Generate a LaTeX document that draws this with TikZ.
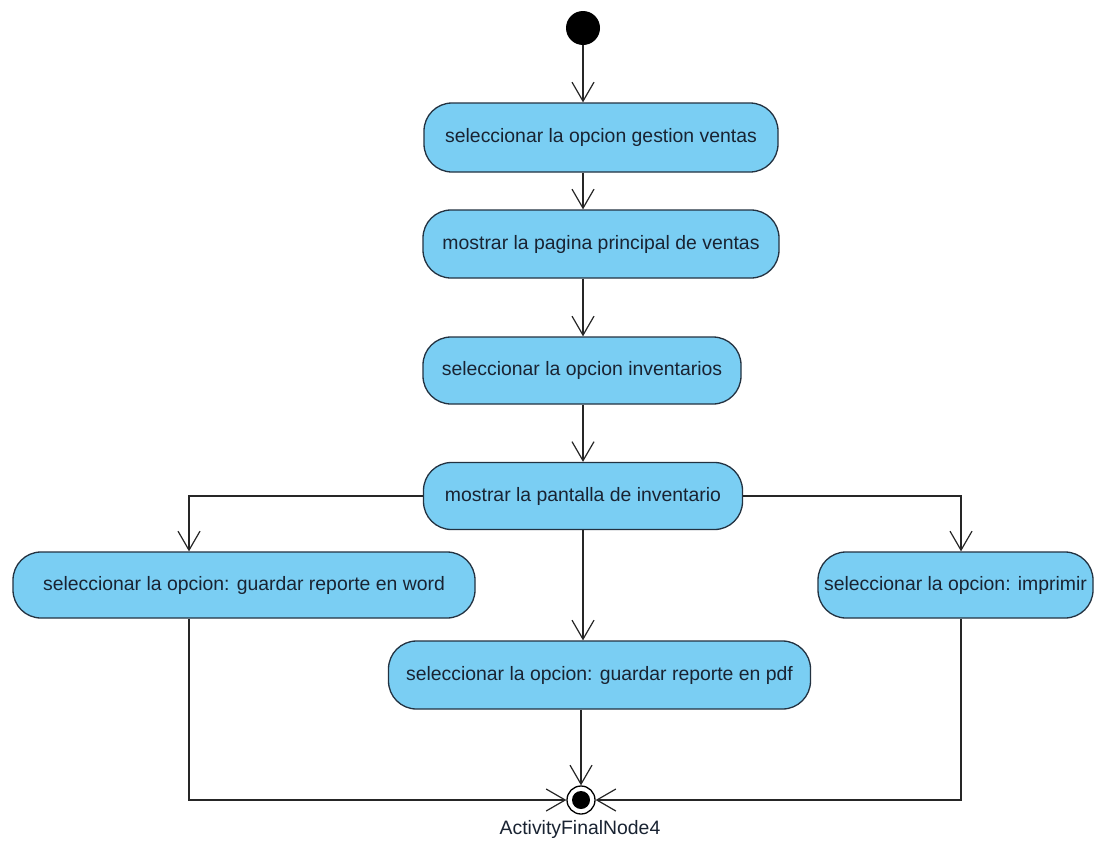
\documentclass[tikz,border=0pt]{standalone}
\usepackage{fontspec}
\setmainfont{Liberation Sans}
\usetikzlibrary{arrows.meta}
\definecolor{boxblue}{RGB}{122,206,243}
\definecolor{boxline}{RGB}{35,50,65}
\definecolor{txt}{RGB}{25,35,50}
\begin{document}
\begin{tikzpicture}[x=1pt,y=-1pt,
  act/.style={draw=boxline,line width=1.3pt,fill=boxblue,rounded corners=28pt,
    inner sep=0pt,text=txt,font=\fontsize{19.4}{23}\selectfont},
  flow/.style={draw=black!85,line width=1.2pt,-{Straight Barb[length=19pt,width=22pt,line width=1.2pt]}},
  plain/.style={draw=black!85,line width=1.2pt}]
\useasboundingbox (0,0) rectangle (1094,846);
\fill[white] (0,0) rectangle (1094,846);
\node[circle,fill=black,minimum size=34pt,inner sep=0pt] (init) at (583,28) {};
\node[act,minimum width=354pt,minimum height=69pt] (b1) at (601,137.5) {seleccionar la opcion gestion ventas};
\node[act,minimum width=356pt,minimum height=68pt] (b2) at (601,244) {mostrar la pagina principal de ventas};
\node[act,minimum width=318pt,minimum height=67pt] (b3) at (582,370.5) {seleccionar la opcion inventarios};
\node[act,minimum width=319pt,minimum height=67pt] (b4) at (583,496) {mostrar la pantalla de inventario};
\node[act,minimum width=462pt,minimum height=66pt] (b5) at (244,585) {seleccionar la opcion: guardar reporte en word};
\node[act,minimum width=275pt,minimum height=66pt] (b6) at (955.5,585) {seleccionar la opcion: imprimir};
\node[act,minimum width=422pt,minimum height=68pt] (b7) at (599.5,675) {seleccionar la opcion: guardar reporte en pdf};
\node[circle,draw=black,line width=1.3pt,fill=white,minimum size=28pt,inner sep=0pt] (fin) at (581,800) {};
\fill[black] (fin.center) circle (9pt);
\node[font=\fontsize{19.4}{23}\selectfont,text=txt,anchor=north] (lbl) at (580,817) {ActivityFinalNode4};
\coordinate (lx) at (189,0);
\coordinate (rx) at (961,0);
\coordinate (cx) at (583,0);
\draw[flow] (init) -- (init |- b1.north);
\draw[flow] (b1.south -| cx) -- (b2.north -| cx);
\draw[flow] (b2.south -| cx) -- (b3.north -| cx);
\draw[flow] (b3.south -| cx) -- (b4.north -| cx);
\draw[flow] (b4.south -| cx) -- (b7.north -| cx);
\draw[flow] (b4.west) -| (b5.north -| lx);
\draw[flow] (b4.east) -| (b6.north -| rx);
\draw[flow] (b5.south -| lx) |- (fin.west);
\draw[flow] (b6.south -| rx) |- (fin.east);
\draw[flow] (b7.south -| fin) -- (fin.north);
\end{tikzpicture}
\end{document}
